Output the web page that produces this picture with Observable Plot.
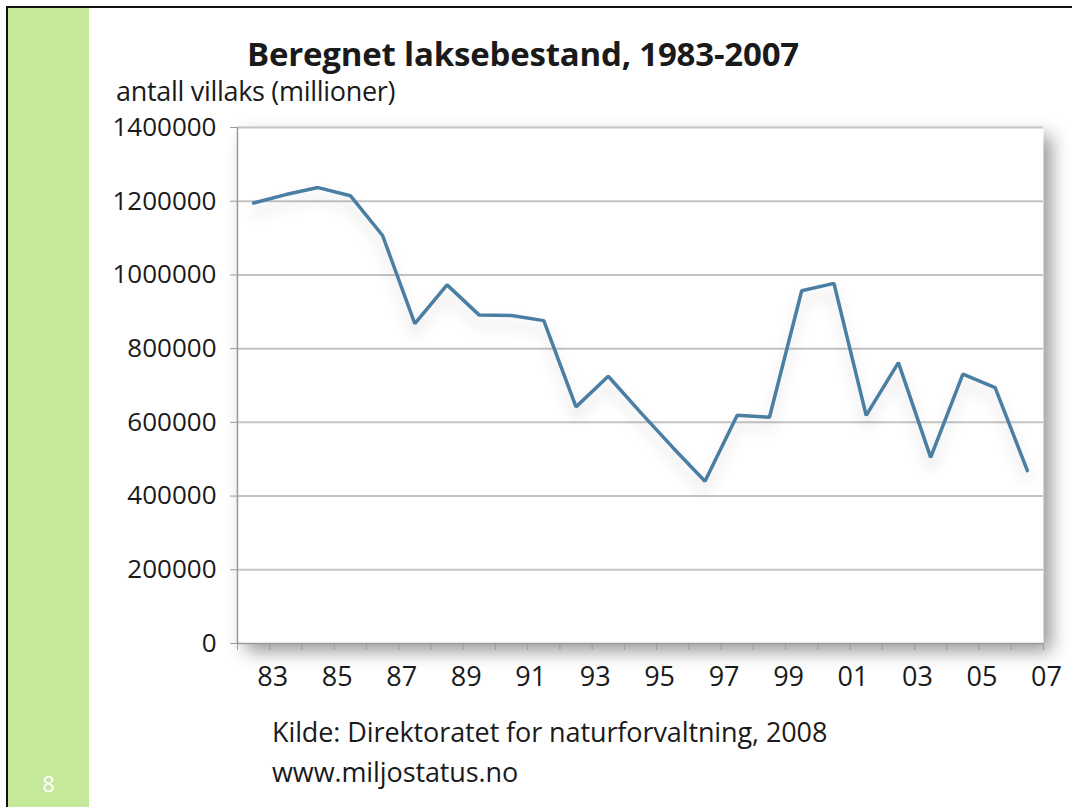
<!DOCTYPE html>
<html><head><meta charset="utf-8">
<script src="https://cdn.jsdelivr.net/npm/d3@7"></script>
<script src="https://cdn.jsdelivr.net/npm/@observablehq/plot@0.6"></script>
<style>
html,body{margin:0;padding:0;}
body{width:1072px;height:807px;position:relative;background:#fff;overflow:hidden;font-family:"Open Sans",sans-serif;color:#1a1a1a;}
#topline{position:absolute;left:6px;top:6px;right:0;height:2px;background:#111;}
#leftline{position:absolute;left:6px;top:6px;bottom:0;width:2px;background:#111;}
#green{position:absolute;left:8px;top:8px;width:81px;bottom:0;background:#c5e89b;}
#num{position:absolute;left:8px;width:81px;top:768px;text-align:center;color:#fff;font-size:22px;}
#title{position:absolute;left:247px;top:31px;font-weight:700;font-size:33px;letter-spacing:-0.2px;white-space:nowrap;}
#ylabel{position:absolute;left:116px;top:78px;font-size:27px;line-height:25px;letter-spacing:-0.3px;white-space:nowrap;}
#chart{position:absolute;left:90px;top:110px;}
#caption{position:absolute;left:272px;top:712px;font-size:27px;letter-spacing:-0.1px;line-height:40px;white-space:nowrap;}
</style></head>
<body>
<div id="topline"></div><div id="leftline"></div>
<div id="green"></div><div id="num">8</div>
<div id="title">Beregnet laksebestand, 1983-2007</div>
<div id="ylabel">antall villaks (millioner)</div>
<div id="chart"></div>
<div id="caption">Kilde: Direktoratet for naturforvaltning, 2008<br>www.miljostatus.no</div>
<script>
const years = [1983,1984,1985,1986,1987,1988,1989,1990,1991,1992,1993,1994,1995,1996,1997,1998,1999,2000,2001,2002,2003,2004,2005,2006,2007];
const salmon = [1195000,1218000,1237000,1215000,1107000,868000,973000,891000,890000,876000,642000,725000,627000,532000,440000,619000,614000,957000,977000,619000,762000,505000,731000,694000,469000];
const yTicks = [0,200000,400000,600000,800000,1000000,1200000,1400000];
const xTickYears = d3.range(1982, 2008);
const xLabelYears = [1983,1985,1987,1989,1991,1993,1995,1997,1999,2001,2003,2005,2007];

const data = years.map((y, i) => ({year: y, count: salmon[i]}));

const chart = Plot.plot({
  width: 982, height: 600,
  marginLeft: 147, marginRight: 29, marginTop: 17, marginBottom: 67,
  x: {domain: [1982, 2007]},
  y: {domain: [0, 1400000]},
  style: {fontFamily: "Open Sans", fontSize: "26px", color: "#1a1a1a", background: "transparent", overflow: "visible"},
  marks: [
    Plot.frame({fill: "white", stroke: null}),
    Plot.gridY(yTicks.slice(1), {stroke: "#c4c4c4", strokeWidth: 2, strokeOpacity: 1}),
    Plot.ruleY([0], {stroke: "#9a9a9a", strokeWidth: 1.5}),
    Plot.ruleX([1982], {y1: 0, y2: 1400000, stroke: "#9a9a9a", strokeWidth: 1.5}),
    Plot.axisY(yTicks, {tickSize: 7, tickPadding: 14, tickFormat: d3.format("d"), label: null, stroke: "#9a9a9a", fill: "#1a1a1a", fontSize: 26}),
    Plot.axisX(xTickYears, {tickSize: 7, tickFormat: () => "", label: null, stroke: "#9a9a9a"}),
    Plot.axisX(xLabelYears, {tickSize: 0, tickPadding: 23, dx: 3, tickFormat: d => String(d).slice(2), label: null, fill: "#1a1a1a", fontSize: 27}),
    Plot.line(data, {x: d => d.year - 0.5, y: "count", stroke: "#4a7ea2", strokeWidth: 3.5, strokeLinejoin: "miter"})
  ]
});
d3.select(chart).select('[aria-label="frame"]').style("filter", "drop-shadow(8px 8px 9px rgba(0,0,0,0.4))");
d3.select(chart).select('[aria-label="line"]').style("filter", "drop-shadow(0px 10px 7px rgba(0,0,0,0.15))");
document.getElementById("chart").appendChild(chart);
</script>
</body></html>
